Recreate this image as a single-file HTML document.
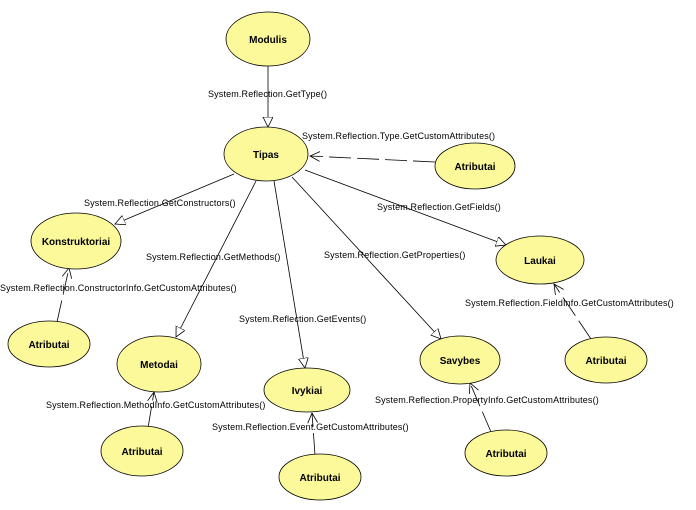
<!DOCTYPE html>
<html><head><meta charset="utf-8"><style>
html,body{margin:0;padding:0;background:#fff;}
svg text{font-family:"Liberation Sans",Arial,sans-serif;}
</style></head><body>
<svg width="696" height="505" viewBox="0 0 696 505" xmlns="http://www.w3.org/2000/svg">
<defs>
<marker id="tri" markerWidth="12" markerHeight="12" refX="10" refY="5" orient="auto" markerUnits="userSpaceOnUse"><path d="M0,0 L10,5 L0,10 Z" fill="#fff" stroke="#000" stroke-width="0.8"/></marker>
<marker id="op" markerWidth="12" markerHeight="12" refX="10" refY="5" orient="auto" markerUnits="userSpaceOnUse"><path d="M0,0 L10,5 L0,10" fill="none" stroke="#000" stroke-width="0.8"/></marker>
</defs>
<g stroke="#000" stroke-width="0.8" fill="none">
<line x1="268" y1="66" x2="268" y2="127" marker-end="url(#tri)"/>
<line x1="234" y1="174" x2="115" y2="224" marker-end="url(#tri)"/>
<line x1="256" y1="181" x2="176" y2="337" marker-end="url(#tri)"/>
<line x1="274" y1="181" x2="305" y2="368" marker-end="url(#tri)"/>
<line x1="292" y1="177" x2="441" y2="339" marker-end="url(#tri)"/>
<line x1="305" y1="170" x2="506" y2="245" marker-end="url(#tri)"/>
<g stroke-dasharray="22,6">
<line x1="435" y1="162" x2="310" y2="156" marker-end="url(#op)"/>
<line x1="57" y1="322" x2="69" y2="268" marker-end="url(#op)"/>
<line x1="148" y1="428" x2="154" y2="392" marker-end="url(#op)"/>
<line x1="315" y1="455" x2="312" y2="413" marker-end="url(#op)"/>
<line x1="491" y1="432" x2="470" y2="383" marker-end="url(#op)"/>
<line x1="591" y1="339" x2="554" y2="284" marker-end="url(#op)"/>
</g>
</g>
<g fill="#fbf99a" stroke="#000" stroke-width="0.8">
<ellipse cx="268" cy="39" rx="42" ry="27"/>
<ellipse cx="266" cy="154" rx="42" ry="27"/>
<ellipse cx="475" cy="166" rx="40" ry="23"/>
<ellipse cx="76" cy="241" rx="45" ry="28"/>
<ellipse cx="49" cy="344" rx="41" ry="23"/>
<ellipse cx="159" cy="364" rx="42" ry="28"/>
<ellipse cx="307" cy="390" rx="43" ry="22"/>
<ellipse cx="142" cy="451" rx="41" ry="25"/>
<ellipse cx="320" cy="477" rx="41" ry="23"/>
<ellipse cx="460" cy="360" rx="40" ry="24"/>
<ellipse cx="506" cy="453" rx="41" ry="23"/>
<ellipse cx="540" cy="260" rx="44" ry="24"/>
<ellipse cx="606" cy="360" rx="41" ry="23"/>
</g>
<g font-size="10" font-weight="bold" text-anchor="middle" fill="#000">
<text x="268" y="43">Modulis</text>
<text x="266" y="158">Tipas</text>
<text x="475" y="170">Atributai</text>
<text x="76" y="245">Konstruktoriai</text>
<text x="49" y="348">Atributai</text>
<text x="159" y="368">Metodai</text>
<text x="307" y="394">Ivykiai</text>
<text x="142" y="455">Atributai</text>
<text x="320" y="481">Atributai</text>
<text x="460" y="364">Savybes</text>
<text x="506" y="457">Atributai</text>
<text x="540" y="264">Laukai</text>
<text x="606" y="364">Atributai</text>
</g>
<g font-size="9" fill="#000" letter-spacing="0.15">
<text x="208" y="97">System.Reflection.GetType()</text>
<text x="302" y="139">System.Reflection.Type.GetCustomAttributes()</text>
<text x="84" y="206">System.Reflection.GetConstructors()</text>
<text x="377" y="210">System.Reflection.GetFields()</text>
<text x="146" y="260">System.Reflection.GetMethods()</text>
<text x="324" y="258">System.Reflection.GetProperties()</text>
<text x="0" y="291">System.Reflection.ConstructorInfo.GetCustomAttributes()</text>
<text x="465" y="306">System.Reflection.FieldInfo.GetCustomAttributes()</text>
<text x="239" y="322">System.Reflection.GetEvents()</text>
<text x="375" y="403">System.Reflection.PropertyInfo.GetCustomAttributes()</text>
<text x="46" y="408">System.Reflection.MethodInfo.GetCustomAttributes()</text>
<text x="212" y="430">System.Reflection.Event.GetCustomAttributes()</text>
</g>
</svg>
</body></html>
